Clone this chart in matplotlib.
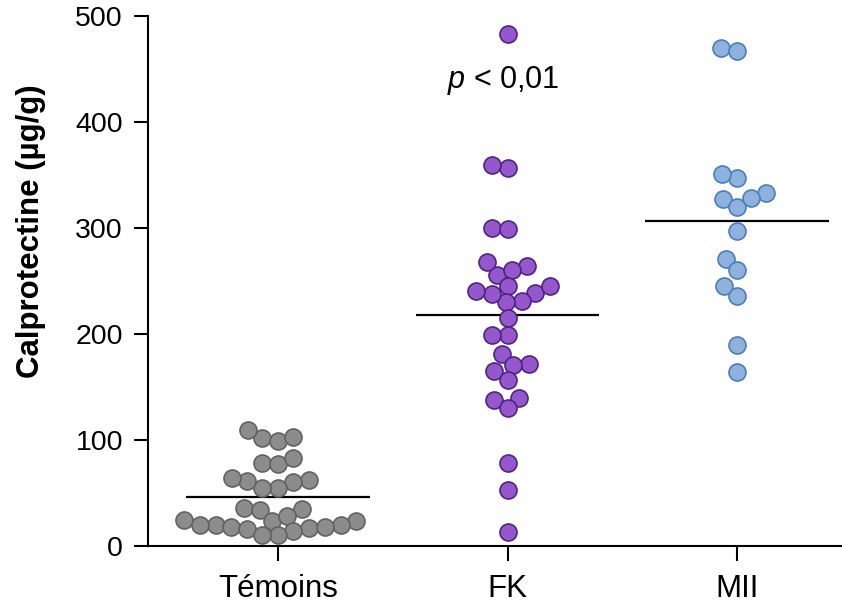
#!/usr/bin/env python3
"""
Calprotectine fécale : Témoins / FK / MII (nuage de points + moyenne)
"""

import numpy as np
import matplotlib
matplotlib.use('Agg')
import matplotlib.pyplot as plt

plt.rcParams['font.family'] = ['Liberation Sans', 'DejaVu Sans']
plt.rcParams['mathtext.fontset'] = 'custom'
plt.rcParams['mathtext.rm'] = 'Liberation Sans'
plt.rcParams['mathtext.it'] = 'Liberation Sans:italic'

# ---- données (µg/g) ----
groups = ['Témoins', 'FK', 'MII']

temoins = [102, 99, 103, 109, 78, 77, 83, 62, 60, 55, 55, 61, 64,
           36, 34, 35, 24, 24, 28, 25, 20, 20, 18, 17, 14, 16, 18, 20,
           10, 10]
fk = [483, 357, 359, 300, 299, 264, 256, 260, 268,
      245, 239, 231, 230, 238, 241, 245, 215, 199, 199, 181,
      172, 165, 171, 157, 138, 140, 130, 78, 53, 13]
mii = [470, 467, 347, 351, 333, 327, 320, 328, 297, 271, 260,
       245, 236, 190, 164]

values = [temoins, fk, mii]

face_colors = ['#8C8C8C', '#9558CC', '#8FB2DC']
edge_colors = ['#626262', '#4E2384', '#4A7DBE']

yticks = [0, 100, 200, 300, 400, 500]

DPI = 100
MARKER_PX = 17      # diamètre des points en pixels
SPACING_PX = 16     # écart minimal entre centres (léger chevauchement)


def swarm_offsets(vals, d_px, sx, sy):
    """Décalages horizontaux type 'beeswarm' (en unités de données x)."""
    vals = np.asarray(vals, dtype=float)
    order = np.argsort(vals, kind='stable')
    placed = []
    offs = np.zeros(len(vals))
    for i in order:
        y = vals[i] * sy
        cands = [0.0]
        for px, py in placed:
            dy = y - py
            if abs(dy) < d_px:
                dx = np.sqrt(d_px ** 2 - dy ** 2)
                cands += [px + dx, px - dx]
        cands.sort(key=lambda c: (abs(c), c))
        for c in cands:
            if all((c - px) ** 2 + (y - py) ** 2 >= d_px ** 2 - 1e-6
                   for px, py in placed):
                break
        placed.append((c, y))
        offs[i] = c / sx
    return offs


fig = plt.figure(figsize=(8.42, 6.12), dpi=DPI)
fig.patch.set_facecolor('white')
ax = fig.add_axes([148 / 842, 66 / 612, 694 / 842, 530 / 612])

ax.set_xlim(-0.566, 2.457)
ax.set_ylim(0, 500)

# échelles pixel / unité
p0 = ax.transData.transform((0, 0))
p1 = ax.transData.transform((1, 1))
sx, sy = p1[0] - p0[0], p1[1] - p0[1]

msize = MARKER_PX * 72 / DPI
for i, vals in enumerate(values):
    offs = swarm_offsets(vals, SPACING_PX, sx, sy)
    ax.scatter(i + offs, vals, s=msize ** 2, facecolor=face_colors[i],
               edgecolor=edge_colors[i], linewidth=1.2, zorder=3,
               clip_on=False)
    m = np.mean(vals)
    ax.plot([i - 0.4, i + 0.4], [m, m], color='black', lw=1.6, zorder=2,
            solid_capstyle='butt')

# p-value
ax.text(0.98, 432, r'$\mathit{p}$ < 0,01', ha='center', va='baseline',
        fontsize=22, color='black')

# axes
for side in ['top', 'right']:
    ax.spines[side].set_visible(False)
ax.spines['left'].set_linewidth(1.5)
ax.spines['bottom'].set_linewidth(1.5)

ax.set_yticks(yticks)
ax.set_xticks(range(len(groups)))
ax.set_xticklabels(groups)
ax.tick_params(axis='y', direction='out', length=10, width=1.5, pad=8,
               labelsize=20.5)
ax.tick_params(axis='x', direction='out', length=11, width=1.5, pad=9,
               labelsize=22.5)

fig.text(31 / 842, 1 - 231 / 612, 'Calprotectine (µg/g)', rotation=90,
         ha='center', va='center', fontsize=22.5, fontweight='bold')

fig.savefig('out.png', dpi=DPI, facecolor='white')
plt.close(fig)
